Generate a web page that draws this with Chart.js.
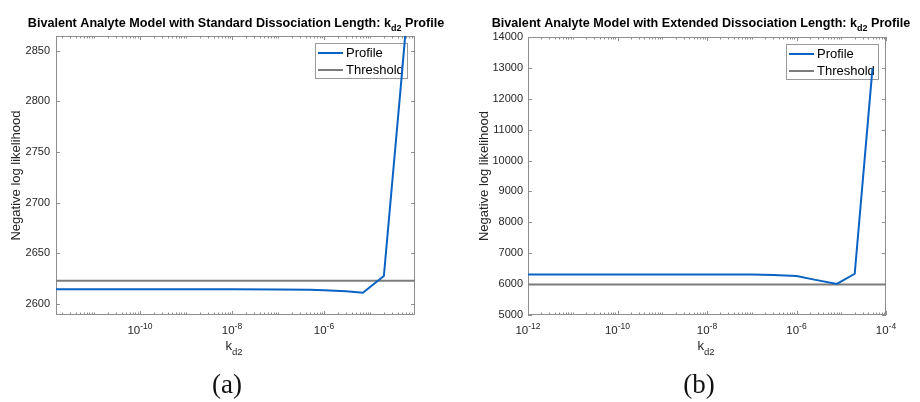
<!DOCTYPE html>
<html>
<head>
<meta charset="utf-8">
<title>kd2 profiles</title>
<script src="https://cdn.jsdelivr.net/npm/chart.js@4.4.0/dist/chart.umd.min.js"></script>
<style>
  html, body { margin: 0; padding: 0; background: #fff; }
  body { width: 920px; height: 402px; position: relative; overflow: hidden; }
  .panel { position: absolute; top: 0; width: 460px; height: 402px; }
  #panelA { left: 0; }
  #panelB { left: 460px; }
  .caption {
    position: absolute; top: 369px; transform: translateX(-50%);
    font-family: "Liberation Serif", "DejaVu Serif", serif; font-size: 27px; color: #111;
  }
</style>
</head>
<body>
<div class="panel" id="panelA"><canvas id="chartA" width="460" height="402"></canvas></div>
<div class="panel" id="panelB"><canvas id="chartB" width="460" height="402"></canvas></div>
<div class="caption" style="left:227px">(a)</div>
<div class="caption" style="left:699px">(b)</div>
<script>
// (a) standard dissociation length
const kdA = [1.5e-12, 1e-11, 1e-10, 1e-9, 1e-8, 1e-7, 5e-7, 1e-6, 3e-6, 7e-6, 2e-5, 5e-5, 1e-4];
const nllA = [2614.5, 2614.5, 2614.5, 2614.5, 2614.5, 2614.3, 2614, 2613.5, 2612.5, 2611, 2627.5, 2830, 2990];
const thresholdA = 2622.7;
const yTicksA = [2600, 2650, 2700, 2750, 2800, 2850];
const xTicksA = [1e-10, 1e-8, 1e-6];

// (b) extended dissociation length
const kdB = [1e-12, 1e-10, 1e-8, 1e-7, 3e-7, 1e-6, 2.5e-6, 8e-6, 2e-5, 5e-5];
const nllB = [6313, 6313, 6312, 6310, 6295, 6260, 6145, 6005, 6335, 13000];
const thresholdB = 5988;
const yTicksB = [5000, 6000, 7000, 8000, 9000, 10000, 11000, 12000, 13000, 14000];
const xTicksB = [1e-12, 1e-10, 1e-8, 1e-6, 1e-4];

const SANS = '"Liberation Sans", Arial, sans-serif';
const FRAME = '#8e8e8e';
const TEXT = '#262626';

// draws text with a sub/superscript part, centred on cx
function subText(ctx, parts, cx, y) {
  let w = 0;
  parts.forEach(p => { ctx.font = p.font; w += ctx.measureText(p.text).width; });
  let x = cx - w / 2;
  parts.forEach(p => {
    ctx.font = p.font;
    ctx.fillText(p.text, x, y + (p.dy || 0));
    x += ctx.measureText(p.text).width;
  });
}

function makeChart(id, opt) {
  const decor = {
    id: 'decor',
    beforeDatasetsDraw(chart) {
      const ctx = chart.ctx;
      const a = chart.chartArea;
      const xs = chart.scales.x, ys = chart.scales.y;
      ctx.save();
      ctx.strokeStyle = FRAME;
      ctx.lineWidth = 1;
      ctx.strokeRect(a.left + 0.5, a.top + 0.5, a.right - a.left - 1, a.bottom - a.top - 1);
      ctx.beginPath();
      // y ticks, inward on both sides
      ys.ticks.forEach(t => {
        const py = Math.round(ys.getPixelForValue(t.value)) + 0.5;
        ctx.moveTo(a.left, py); ctx.lineTo(a.left + 4, py);
        ctx.moveTo(a.right, py); ctx.lineTo(a.right - 4, py);
      });
      // log minor / major ticks, bottom and top
      const d0 = Math.floor(Math.log10(xs.min)), d1 = Math.ceil(Math.log10(xs.max));
      for (let d = d0; d <= d1; d++) {
        for (let m = 1; m <= 9; m++) {
          const v = m * Math.pow(10, d);
          if (v < xs.min * 0.999 || v > xs.max * 1.001) continue;
          const px = Math.round(xs.getPixelForValue(v)) + 0.5;
          const len = (m === 1 && d % 2 === 0) ? 4 : 2.5;
          ctx.moveTo(px, a.bottom); ctx.lineTo(px, a.bottom - len);
          ctx.moveTo(px, a.top); ctx.lineTo(px, a.top + len);
        }
      }
      ctx.stroke();

      // legend box
      const lx = a.right - 7 - 93, ly = a.top + 7;
      ctx.fillStyle = '#fff';
      ctx.fillRect(lx, ly, 93, 36);
      ctx.strokeStyle = '#9a9a9a';
      ctx.strokeRect(lx + 0.5, ly + 0.5, 92, 35);
      ctx.font = '13px ' + SANS;
      ctx.textBaseline = 'middle';
      chart.data.datasets.forEach((ds, i) => {
        const ry = ly + 10 + i * 17;
        ctx.strokeStyle = ds.borderColor;
        ctx.lineWidth = 2;
        ctx.beginPath();
        ctx.moveTo(lx + 3, ry); ctx.lineTo(lx + 28, ry);
        ctx.stroke();
        ctx.fillStyle = '#000';
        ctx.fillText(ds.label, lx + 31, ry + 0.5);
      });
      ctx.restore();
    },
    afterDraw(chart) {
      const ctx = chart.ctx;
      const a = chart.chartArea;
      const xs = chart.scales.x;
      ctx.save();
      ctx.textBaseline = 'alphabetic';
      // x tick labels 10^n
      ctx.fillStyle = TEXT;
      xs.ticks.forEach(t => {
        const px = xs.getPixelForValue(t.value);
        const e = String(Math.round(Math.log10(t.value)));
        subText(ctx, [
          { text: '10', font: '11.5px ' + SANS },
          { text: e, font: '8.5px ' + SANS, dy: -5.5 }
        ], px, a.bottom + 19);
      });
      // x axis title
      subText(ctx, [
        { text: 'k', font: '13px ' + SANS },
        { text: 'd2', font: '9.5px ' + SANS, dy: 5 }
      ], opt.xLabelX, 350);
      // y axis title
      ctx.save();
      ctx.translate(opt.yLabelX, (a.top + a.bottom) / 2);
      ctx.rotate(-Math.PI / 2);
      ctx.font = '13px ' + SANS;
      ctx.textAlign = 'center';
      ctx.fillText('Negative log likelihood', 0, 4.5);
      ctx.restore();
      // title
      ctx.fillStyle = '#000';
      subText(ctx, [
        { text: opt.title[0], font: 'bold 12.6px ' + SANS },
        { text: 'd2', font: 'bold 9px ' + SANS, dy: 4 },
        { text: opt.title[1], font: 'bold 12.6px ' + SANS }
      ], opt.titleX, 26.5);
      ctx.restore();
    }
  };

  return new Chart(document.getElementById(id), {
    type: 'line',
    data: {
      datasets: [
        {
          label: 'Profile',
          data: opt.kd.map((k, i) => ({ x: k, y: opt.nll[i] })),
          borderColor: '#0a62c4',
          borderWidth: 2,
          pointRadius: 0,
          tension: 0
        },
        {
          label: 'Threshold',
          data: [{ x: opt.xMin, y: opt.threshold }, { x: opt.xMax, y: opt.threshold }],
          borderColor: '#7c7c7c',
          borderWidth: 2,
          pointRadius: 0
        }
      ]
    },
    options: {
      responsive: false,
      animation: false,
      devicePixelRatio: 1,
      layout: { padding: opt.padding },
      plugins: { legend: { display: false }, title: { display: false }, tooltip: { enabled: false } },
      scales: {
        x: {
          type: 'logarithmic',
          min: opt.xMin,
          max: opt.xMax,
          grid: { display: false, drawTicks: false },
          border: { display: false },
          ticks: { display: false },
          afterBuildTicks: s => { s.ticks = opt.xTicks.map(v => ({ value: v })); },
          afterFit: s => { s.height = 0; s.paddingLeft = 0; s.paddingRight = 0; }
        },
        y: {
          min: opt.yMin,
          max: opt.yMax,
          grid: { display: false, drawTicks: false },
          border: { display: false },
          ticks: {
            color: TEXT, padding: opt.tickPad, font: { family: SANS, size: 11 },
            callback: v => String(v)
          },
          afterBuildTicks: s => { s.ticks = opt.yTicks.map(v => ({ value: v })); },
          afterFit: s => { s.width = opt.yWidth; s.paddingTop = 0; s.paddingBottom = 0; }
        }
      }
    },
    plugins: [decor]
  });
}

makeChart('chartA', {
  kd: kdA, nll: nllA, threshold: thresholdA,
  xMin: 1.5e-12, xMax: 9.5e-5, yMin: 2589, yMax: 2864.5,
  xTicks: xTicksA, yTicks: yTicksA,
  yWidth: 56, tickPad: 6,
  padding: { top: 36, right: 45, bottom: 87, left: 0 },
  title: ['Bivalent Analyte Model with Standard Dissociation Length: k', ' Profile'],
  titleX: 236, xLabelX: 234, yLabelX: 15
});

makeChart('chartB', {
  kd: kdB, nll: nllB, threshold: thresholdB,
  xMin: 1e-12, xMax: 1e-4, yMin: 5000, yMax: 14000,
  xTicks: xTicksB, yTicks: yTicksB,
  yWidth: 68, tickPad: 5,
  padding: { top: 37, right: 34, bottom: 87, left: 0 },
  title: ['Bivalent Analyte Model with Extended Dissociation Length: k', ' Profile'],
  titleX: 241, xLabelX: 246, yLabelX: 23
});
</script>
</body>
</html>
